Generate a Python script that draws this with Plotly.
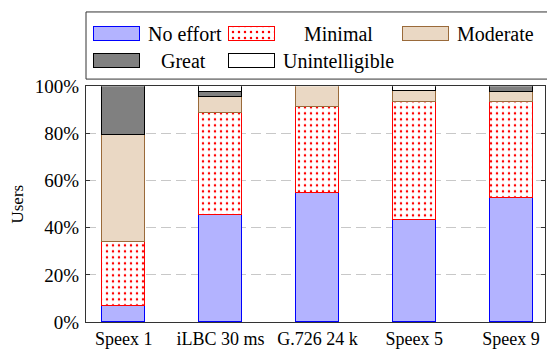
import plotly.graph_objects as go

# Share of users (%) per listening-effort rating for each codec setting
codecs = ["Speex 1", "iLBC 30 ms", "G.726 24 k", "Speex 5", "Speex 9"]
no_effort = [6.8, 45.3, 54.6, 43.1, 52.3]
minimal = [27.1, 43.3, 36.3, 50.0, 40.8]
moderate = [45.4, 6.6, 9.1, 4.6, 4.3]
great = [20.7, 2.3, 0.0, 0.0, 2.6]
unintelligible = [0.0, 2.5, 0.0, 2.3, 0.0]
y_ticks = [0, 20, 40, 60, 80, 100]

FONT = "Times New Roman, Liberation Serif, DejaVu Serif, serif"
W, H = 547, 350
M_L, M_R, M_T, M_B = 86, 1, 2, 26
PLOT_TOP_PX = 80          # top of the bar area
LEG_BOTTOM_PX = 72.5      # bottom of the legend frame

paper_h = H - M_T - M_B
paper_w = W - M_L - M_R


def py(px):
    """Pixel row -> paper y fraction."""
    return (H - M_B - px) / paper_h


def pxp(px):
    """Pixel column -> paper x fraction."""
    return (px - M_L) / paper_w


series = [
    ("No effort", no_effort, dict(color="#b3b3ff", line=dict(color="#0000ff", width=1))),
    ("Minimal", minimal, dict(color="white", line=dict(color="#ff0000", width=1),
                              pattern=dict(shape=".", fgcolor="#ff0000", bgcolor="white",
                                           size=6, solidity=0.13, fillmode="replace"))),
    ("Moderate", moderate, dict(color="#ead8c4", line=dict(color="#9a6a3a", width=1))),
    ("Great", great, dict(color="#808080", line=dict(color="#000000", width=1))),
    ("Unintelligible", unintelligible, dict(color="white", line=dict(color="#000000", width=1))),
]

fig = go.Figure()
for name, vals, marker in series:
    fig.add_trace(go.Bar(
        x=list(range(len(codecs))), y=vals, name=name, marker=marker,
        width=0.443, showlegend=False, xaxis="x", yaxis="y",
    ))

# Legend: wide swatches drawn as horizontal bars on a pixel-scaled helper axis
leg_x0 = [94, 229, 404, 94, 229]
leg_row = [26, 26, 26, 54, 54]
sw_w = 46
for (name, vals, marker), x0, yr in zip(series, leg_x0, leg_row):
    fig.add_trace(go.Bar(
        x=[sw_w], y=[yr], base=[x0], orientation="h", width=15,
        marker=marker, showlegend=False, hoverinfo="skip",
        xaxis="x2", yaxis="y2",
    ))

leg_text = [
    ("No effort", 146, 26, "left"),
    ("Minimal", 339, 26, "center"),
    ("Moderate", 456, 26, "left"),
    ("Great", 184, 54, "center"),
    ("Unintelligible", 281, 54, "left"),
]
for txt, x, y, anchor in leg_text:
    fig.add_annotation(text=txt, x=x, y=y, xref="x2", yref="y2", xanchor=anchor,
                       yanchor="middle", showarrow=False,
                       font=dict(family=FONT, size=20, color="black"))

fig.add_shape(type="rect", xref="paper", yref="paper",
              x0=0, x1=pxp(560), y0=py(LEG_BOTTOM_PX), y1=py(3),
              line=dict(color="#333333", width=1), fillcolor="rgba(0,0,0,0)")

fig.update_layout(
    width=W, height=H,
    margin=dict(l=M_L, r=M_R, t=M_T, b=M_B),
    paper_bgcolor="white", plot_bgcolor="white",
    barmode="stack", bargap=0,
    font=dict(family=FONT, size=18, color="black"),
    xaxis=dict(
        domain=[0, 1], range=[-0.39, 4.35],
        tickvals=list(range(len(codecs))), ticktext=codecs,
        tickfont=dict(family=FONT, size=18, color="black"),
        showline=True, mirror=True, linecolor="#333333", linewidth=1,
        showgrid=False, zeroline=False, ticks="", fixedrange=True,
    ),
    yaxis=dict(
        domain=[0, py(PLOT_TOP_PX)], range=[0, 100],
        tickvals=y_ticks, ticktext=[f"{v}%" for v in y_ticks],
        tickfont=dict(family=FONT, size=19, color="black"),
        showline=True, mirror="ticks", linecolor="#333333", linewidth=1,
        ticks="inside", ticklen=4, tickcolor="#333333",
        ticklabelstandoff=2,
        showgrid=True, gridcolor="#c8c8c8", griddash="10px,5px", gridwidth=1,
        zeroline=False,
        title=dict(text="Users", font=dict(family=FONT, size=17, color="black"), standoff=6),
    ),
    xaxis2=dict(domain=[0, 1], range=[M_L, W - M_R], anchor="y2", visible=False,
                fixedrange=True),
    yaxis2=dict(domain=[py(LEG_BOTTOM_PX), 1], range=[LEG_BOTTOM_PX, M_T],
                anchor="x2", visible=False, fixedrange=True),
)

fig.write_html("out.html")
